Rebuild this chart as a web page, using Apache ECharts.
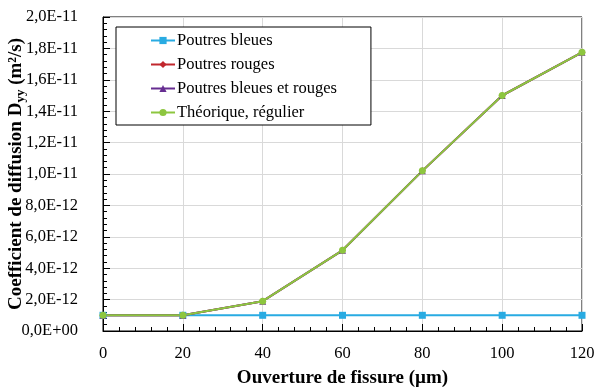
<!DOCTYPE html>
<html>
<head>
<meta charset="utf-8">
<script src="https://cdn.jsdelivr.net/npm/echarts@6/dist/echarts.min.js"></script>
<style>html,body{margin:0;padding:0;background:#fff}#c{width:598px;height:391px}</style>
</head>
<body>
<div id="c"></div>
<script>
const categories = [0, 20, 40, 60, 80, 100, 120];
const poutresBleues = [1.0e-12, 1.0e-12, 1.0e-12, 1.0e-12, 1.0e-12, 1.0e-12, 1.0e-12];
const poutresRouges = [1.0e-12, 1.0e-12, 1.9e-12, 5.14e-12, 10.2e-12, 15.0e-12, 17.75e-12];
const poutresBleuesRouges = [1.0e-12, 1.0e-12, 1.9e-12, 5.14e-12, 10.2e-12, 15.0e-12, 17.75e-12];
const theorique = [1.0e-12, 1.0e-12, 1.9e-12, 5.14e-12, 10.2e-12, 15.0e-12, 17.75e-12];
const seriesNames = ['Poutres bleues', 'Poutres rouges', 'Poutres bleues et rouges', 'Théorique, régulier'];

const FONT = '"Liberation Serif", "Times New Roman", serif';
function fmtE(v) {
  let s = Number(v).toExponential(1);
  let [m, e] = s.split('e');
  let sign = e[0] === '-' ? '-' : '+';
  let d = e.replace(/[+-]/, '');
  if (d.length < 2) d = '0' + d;
  return m.replace('.', ',') + 'E' + sign + d;
}
function pairs(arr) { return categories.map((x, i) => [x, arr[i]]); }

const chart = echarts.init(document.getElementById('c'), null, {renderer: 'canvas'});
chart.setOption({
  animation: false,
  backgroundColor: '#ffffff',
  textStyle: {fontFamily: FONT},
  grid: {left: 103, right: 16, top: 17, bottom: 60, show: true, borderColor: '#000', borderWidth: 1,
    containLabel: false, outerBoundsMode: 'none'},
  legend: {
    orient: 'vertical', left: 116, top: 27,
    padding: [5, 34, 4, 34],
    itemWidth: 24, itemHeight: 9, itemGap: 7,
    backgroundColor: '#fff', borderColor: '#000', borderWidth: 1,
    textStyle: {fontFamily: FONT, fontSize: 16.5, lineHeight: 16, color: '#000', padding: [0, 0, 0, -3]},
    data: seriesNames
  },
  xAxis: {
    type: 'value', min: 0, max: 120, interval: 20,
    name: 'Ouverture de fissure (µm)', nameLocation: 'middle', nameGap: 38, nameMoveOverlap: false,
    nameTextStyle: {fontFamily: FONT, fontSize: 19, fontWeight: 'bold', color: '#000'},
    axisLine: {lineStyle: {color: '#000', width: 1}},
    axisTick: {inside: true, length: 7, lineStyle: {color: '#000'}},
    minorTick: {show: true, splitNumber: 5, length: 4, lineStyle: {color: '#000'}},
    axisLabel: {fontFamily: FONT, fontSize: 16.5, color: '#000', margin: 14},
    splitLine: {show: true, lineStyle: {color: '#d9d9d9', width: 1}}
  },
  yAxis: {
    type: 'value', min: 0, max: 2e-11, interval: 2e-12,
    name: '{b|Coefficient de diffusion D}{s|yy}{b| (m²/s)}', nameLocation: 'middle', nameGap: 76,
    nameMoveOverlap: false,
    nameTextStyle: {
      fontFamily: FONT, fontSize: 19, fontWeight: 'bold', color: '#000',
      rich: {
        b: {fontFamily: FONT, fontSize: 19, fontWeight: 'bold', color: '#000'},
        s: {fontFamily: FONT, fontSize: 13, fontWeight: 'bold', color: '#000', padding: [9, 0, 0, 0]}
      }
    },
    axisLine: {show: true, lineStyle: {color: '#000', width: 1}},
    axisTick: {show: true, inside: true, length: 7, lineStyle: {color: '#000'}},
    minorTick: {show: true, splitNumber: 5, length: 4, lineStyle: {color: '#000'}},
    axisLabel: {fontFamily: FONT, fontSize: 16.5, color: '#000', margin: 25, formatter: fmtE},
    splitLine: {show: true, lineStyle: {color: '#d9d9d9', width: 1}}
  },
  series: [
    {name: seriesNames[0], type: 'line', data: pairs(poutresBleues), symbol: 'rect', symbolSize: 7,
      itemStyle: {color: '#29abe2'}, lineStyle: {color: '#29abe2', width: 2}},
    {name: seriesNames[1], type: 'line', data: pairs(poutresRouges), symbol: 'diamond', symbolSize: 7,
      itemStyle: {color: '#c1272d'}, lineStyle: {color: '#c1272d', width: 2}},
    {name: seriesNames[2], type: 'line', data: pairs(poutresBleuesRouges), symbol: 'triangle', symbolSize: 7,
      itemStyle: {color: '#662d91'}, lineStyle: {color: '#662d91', width: 2}},
    {name: seriesNames[3], type: 'line', data: pairs(theorique), symbol: 'circle', symbolSize: 7,
      itemStyle: {color: '#8dc63f'}, lineStyle: {color: '#8dc63f', width: 2}}
  ]
});
</script>
</body>
</html>
